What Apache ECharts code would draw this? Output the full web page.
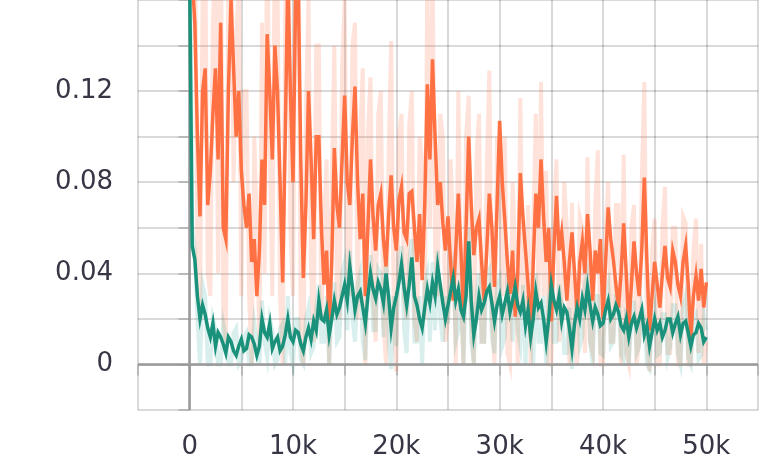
<!DOCTYPE html>
<html><head><meta charset="utf-8">
<script src="https://cdn.jsdelivr.net/npm/echarts@6/dist/echarts.min.js"></script>
<style>html,body{margin:0;padding:0;background:#fff}#c{width:761px;height:461px}</style>
</head><body><div id="c"></div>
<script>
const STEP = 250;
const xTickLabels = ['0','10k','20k','30k','40k','50k'];
const yTickLabels = ['0','0.04','0.08','0.12'];
const orangeSmooth = [0.19,0.17,0.15,0.1,0.065,0.12,0.13,0.07,0.085,0.11,0.13,0.09,0.15,0.06,0.055,0.12,0.16,0.13,0.10,0.12,0.085,0.07,0.06,0.075,0.045,0.055,0.03,0.05,0.09,0.07,0.145,0.12,0.09,0.14,0.12,0.08,0.036,0.1,0.17,0.12,0.08,0.16,0.17,0.09,0.038,0.07,0.12,0.09,0.055,0.1,0.10,0.06,0.035,0.05,0.015,0.045,0.095,0.07,0.06,0.09,0.118,0.08,0.07,0.1,0.122,0.08,0.055,0.075,0.03,0.06,0.09,0.065,0.05,0.07,0.075,0.055,0.043,0.065,0.083,0.06,0.05,0.072,0.078,0.058,0.055,0.075,0.076,0.06,0.045,0.066,0.037,0.07,0.123,0.09,0.134,0.1,0.07,0.08,0.062,0.05,0.065,0.045,0.028,0.05,0.075,0.05,0.022,0.06,0.1,0.07,0.048,0.06,0.064,0.045,0.028,0.05,0.075,0.06,0.034,0.07,0.107,0.08,0.063,0.045,0.031,0.05,0.021,0.04,0.084,0.065,0.05,0.035,0.012,0.045,0.075,0.06,0.09,0.065,0.045,0.06,0.019,0.05,0.074,0.05,0.058,0.045,0.028,0.045,0.058,0.04,0.022,0.045,0.054,0.04,0.066,0.05,0.028,0.05,0.04,0.055,0.02,0.045,0.069,0.055,0.046,0.035,0.025,0.04,0.062,0.04,0.016,0.035,0.054,0.04,0.03,0.05,0.082,0.045,0.015,0.03,0.045,0.035,0.025,0.04,0.052,0.038,0.034,0.05,0.045,0.035,0.03,0.045,0.052,0.035,0.012,0.03,0.039,0.028,0.042,0.025,0.036];
const orangeRaw = [0.25,0.19,0.20,0.05,0.02,0.16,0.19,0.04,0.03,0.15,0.18,0.04,0.21,0.02,0.01,0.17,0.22,0.08,0.14,0.17,0.03,0.12,0.12,0.03,0.0,0.1,0.06,0.01,0.15,0.04,0.19,0.1,0.03,0.2,0.17,0.03,0.0,0.15,0.24,0.06,0.03,0.2,0.23,0.01,0.0,0.11,0.16,0.04,0.01,0.14,0.14,0.02,0.06,0.09,0.0,0.08,0.14,0.03,0.02,0.13,0.16,0.04,0.03,0.14,0.15,0.02,0.1,0.13,0.0,0.1,0.126,0.03,0.01,0.11,0.12,0.02,0.0,0.09,0.142,0.02,-0.003,0.1,0.11,0.03,0.02,0.105,0.12,0.02,0.01,0.1,0.09,0.02,0.17,0.06,0.18,0.05,0.03,0.11,0.1,0.01,0.02,0.09,0.06,0.0,0.12,0.03,0.0,0.1,0.118,0.02,0.0,0.09,0.11,0.01,0.01,0.085,0.129,0.02,0.0,0.1,0.09,0.03,0.1,0.005,0.0,0.08,0.05,0.0,0.117,0.03,0.02,0.07,0.0,0.06,0.11,0.02,0.124,0.03,0.085,0.0,0.0,0.07,0.09,0.01,0.02,0.08,0.06,0.0,0.071,0.01,0.0,0.065,0.06,0.005,0.091,0.01,0.005,0.07,0.094,0.0,0.0,0.06,0.08,0.01,0.01,0.07,0.07,0.0,0.092,0.005,0.0,0.06,0.07,0.0,0.01,0.08,0.124,0.01,-0.003,0.05,0.064,0.0,0.0,0.06,0.078,0.005,0.005,0.06,0.06,0.0,0.0,0.065,0.062,0.0,0.0,0.05,0.064,0.005,0.053,0.0,0.01];
const tealSmooth = [0.17,0.052,0.046,0.03,0.02,0.026,0.022,0.016,0.012,0.018,0.008,0.014,0.012,0.009,0.005,0.012,0.01,0.006,0.004,0.008,0.011,0.006,0.007,0.013,0.012,0.009,0.004,0.008,0.02,0.014,0.012,0.018,0.007,0.01,0.012,0.006,0.008,0.013,0.02,0.012,0.01,0.015,0.014,0.009,0.006,0.012,0.016,0.011,0.019,0.015,0.028,0.02,0.019,0.024,0.013,0.02,0.028,0.022,0.025,0.03,0.035,0.028,0.043,0.034,0.024,0.03,0.032,0.025,0.018,0.03,0.04,0.033,0.029,0.036,0.033,0.027,0.04,0.03,0.016,0.025,0.03,0.036,0.044,0.034,0.026,0.035,0.047,0.03,0.026,0.02,0.016,0.025,0.033,0.027,0.036,0.03,0.043,0.035,0.027,0.02,0.026,0.032,0.038,0.028,0.033,0.024,0.021,0.03,0.054,0.028,0.013,0.02,0.03,0.024,0.027,0.032,0.034,0.027,0.019,0.026,0.03,0.022,0.027,0.032,0.023,0.028,0.034,0.026,0.023,0.028,0.017,0.024,0.012,0.02,0.032,0.025,0.027,0.02,0.01,0.02,0.035,0.028,0.024,0.03,0.019,0.025,0.023,0.016,0.007,0.018,0.025,0.02,0.029,0.024,0.034,0.026,0.019,0.025,0.022,0.017,0.018,0.024,0.028,0.02,0.022,0.026,0.023,0.017,0.015,0.02,0.012,0.018,0.021,0.016,0.02,0.024,0.013,0.017,0.008,0.014,0.02,0.015,0.018,0.012,0.015,0.02,0.02,0.014,0.018,0.021,0.013,0.018,0.019,0.014,0.008,0.013,0.014,0.018,0.016,0.01,0.012];
const tealRaw = [0.2,0.06,0.05,0.02,0.0,0.035,0.03,0.0,0.0,0.02,0.015,0.0,0.0,0.018,0.012,0.0,0.0,0.014,0.016,0.0,0.002,0.012,0.014,0.0,0.0,0.018,0.01,0.0,0.028,0.01,0.003,0.02,0.015,0.0,0.002,0.016,0.018,0.0,0.03,0.005,0.0,0.02,0.02,0.002,0.0,0.02,0.025,0.005,0.008,0.025,0.035,0.01,0.01,0.03,0.0,0.025,0.036,0.01,0.012,0.04,0.045,0.015,0.05,0.02,0.01,0.035,0.04,0.01,0.002,0.035,0.048,0.015,0.015,0.042,0.04,0.012,0.05,0.01,-0.002,0.03,0.008,0.045,0.052,0.015,0.005,0.045,0.055,0.01,0.01,0.03,0.0,0.035,0.04,0.01,0.045,0.015,0.05,0.02,0.01,0.03,0.018,0.04,0.045,0.01,0.015,0.035,0.0,0.04,0.06,0.01,0.0,0.03,0.04,0.01,0.01,0.04,0.042,0.012,0.005,0.035,0.038,0.008,0.012,0.04,0.03,0.01,0.04,0.015,0.008,0.035,0.0,0.03,0.02,0.0,0.04,0.01,0.01,0.03,0.0,0.028,0.042,0.01,0.01,0.035,0.025,0.005,0.005,0.025,-0.002,0.02,0.03,0.008,0.012,0.035,0.04,0.01,0.0,0.03,0.03,0.005,0.004,0.03,0.035,0.008,0.01,0.03,0.03,0.004,0.002,0.025,0.0,0.02,0.028,0.005,0.008,0.026,0.02,0.0,-0.002,0.02,0.025,0.004,0.005,0.022,0.022,0.003,0.008,0.026,0.026,0.005,0.0,0.025,0.03,0.003,0.0,0.02,0.022,0.002,0.004,0.022,0.015];

const pts = arr => arr.map((v, i) => [i * STEP, v]);
const fontFamily = 'DejaVu Sans';
const gridColor = 'rgba(0,0,0,0.2)';

function lineSeries(name, arr, color, width, z) {
  return { name, type: 'line', data: pts(arr), showSymbol: false, symbol: 'none', z,
    lineStyle: { color, width, join: 'miter', cap: 'butt' }, clip: true, animation: false };
}

const chart = echarts.init(document.getElementById('c'), null, { renderer: 'canvas' });
const series = [
  lineSeries('orange raw', orangeRaw, 'rgba(255,112,67,0.2)', 4, 2),
  lineSeries('teal raw', tealRaw, 'rgba(0,150,136,0.15)', 4, 4),
  lineSeries('orange', orangeSmooth, '#ff7043', 3.5, 5),
  lineSeries('teal', tealSmooth, '#1a917a', 3.5, 6)
];
series[0].markLine = { silent: true, symbol: 'none', label: { show: false }, animation: false,
  lineStyle: { color: '#999', width: 2.5, type: 'solid' }, data: [{ yAxis: 0 }, { xAxis: 0 }] };

chart.setOption({
  animation: false,
  backgroundColor: '#fff',
  grid: { left: 138, top: 0, width: 624, height: 410, containLabel: false },
  xAxis: {
    type: 'value', min: -5000, max: 55000, interval: 5000,
    axisLine: { show: false },
    axisTick: { show: true, length: 11, lineStyle: { color: gridColor, width: 1.5 } },
    splitLine: { show: true, lineStyle: { color: gridColor, width: 1.5 } },
    axisLabel: { margin: 24, fontFamily, fontSize: 26, color: '#363645',
      formatter: v => { const k = Math.round(v / 10000); return (v >= 0 && v % 10000 === 0 && k < xTickLabels.length) ? xTickLabels[k] : ''; } }
  },
  yAxis: {
    type: 'value', min: -0.02, max: 0.16, interval: 0.02,
    axisLine: { show: false },
    axisTick: { show: true, length: 11, lineStyle: { color: gridColor, width: 1.5 } },
    splitLine: { show: true, lineStyle: { color: gridColor, width: 1.5 } },
    axisLabel: { margin: 25, fontFamily, fontSize: 26, color: '#363645',
      formatter: v => { const n = Math.round(v * 100); return (n >= 0 && n % 4 === 0 && n / 4 < yTickLabels.length) ? yTickLabels[n / 4] : ''; } }
  },
  series
});
</script></body></html>
